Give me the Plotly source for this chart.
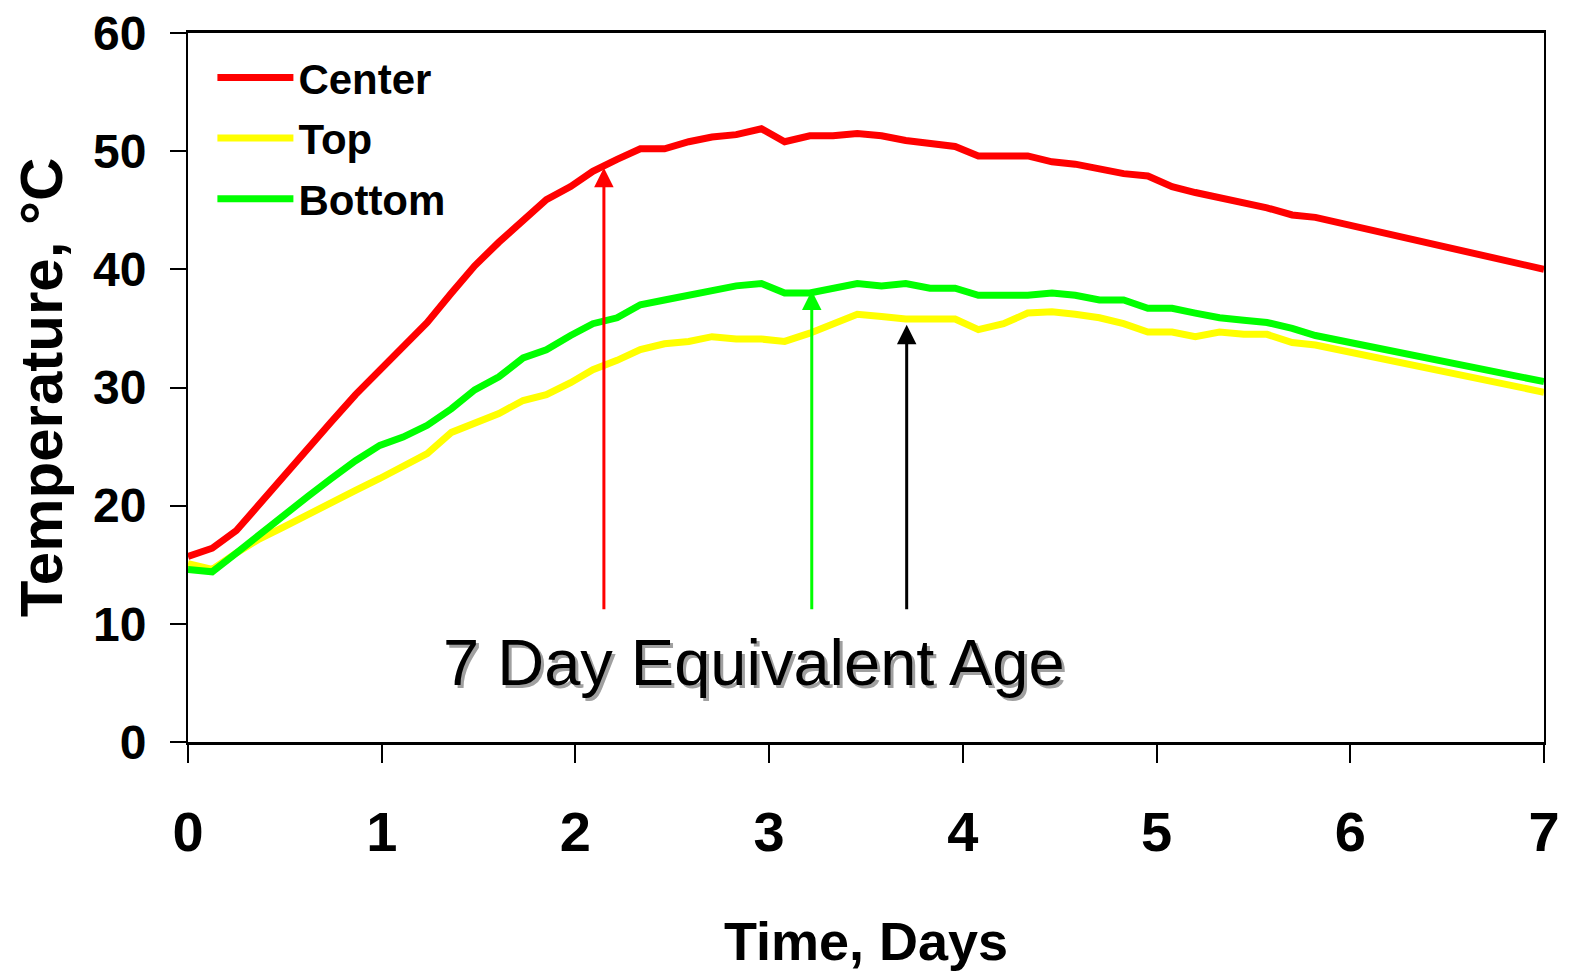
import plotly.graph_objects as go

# ---- data ----
time_days = [0.00, 0.125, 0.25, 0.37, 0.495, 0.62, 0.74, 0.865, 0.99, 1.11,
             1.235, 1.36, 1.48, 1.605, 1.73, 1.85, 1.975, 2.09, 2.215, 2.335,
             2.46, 2.585, 2.705, 2.83, 2.96, 3.08, 3.21, 3.33, 3.455, 3.58,
             3.705, 3.83, 3.96, 4.08, 4.21, 4.335, 4.46, 4.58, 4.705, 4.83,
             4.955, 5.08, 5.20, 5.325, 5.45, 5.57, 5.70, 5.82, 7.00]

center = [15.7, 16.4, 17.9, 20.2, 22.5, 24.8, 27.1, 29.4, 31.5, 33.4,
          35.5, 38.0, 40.3, 42.3, 44.2, 45.9, 47.0, 48.3, 49.3, 50.2,
          50.2, 50.8, 51.2, 51.4, 51.9, 50.8, 51.3, 51.3, 51.5, 51.3,
          50.9, 50.7, 50.4, 49.6, 49.6, 49.6, 49.1, 48.9, 48.5, 48.1,
          47.9, 47.0, 46.5, 46.1, 45.6, 45.2, 44.6, 44.4, 40.0]

top = [15.1, 14.6, 16.0, 17.2, 18.2, 19.3, 20.3, 21.3, 22.3, 23.3,
       24.4, 26.2, 27.0, 27.8, 28.9, 29.4, 30.4, 31.5, 32.3, 33.2,
       33.7, 33.9, 34.3, 34.1, 34.1, 33.9, 34.6, 35.4, 36.2, 36.0,
       35.8, 35.8, 35.8, 34.9, 35.4, 36.3, 36.4, 36.2, 35.9, 35.4,
       34.7, 34.7, 34.3, 34.7, 34.5, 34.5, 33.8, 33.6, 29.6]

bottom = [14.6, 14.4, 16.0, 17.6, 19.2, 20.8, 22.3, 23.8, 25.1, 25.8,
          26.8, 28.2, 29.8, 30.9, 32.5, 33.2, 34.4, 35.4, 35.9, 37.0,
          37.4, 37.8, 38.3, 38.6, 38.8, 38.0, 38.0, 38.4, 38.8, 38.6,
          38.8, 38.4, 38.4, 37.8, 37.8, 37.8, 38.0, 37.8, 37.4, 37.4,
          36.7, 36.7, 36.3, 35.9, 35.7, 35.5, 35.0, 34.4, 30.5]

series_names = ["Center", "Top", "Bottom"]
series_colors = ["#FF0000", "#FFFF00", "#00FF00"]

# equivalent-age arrows: day, tip temperature, tail temperature, colour
arrow_days = [2.147, 3.22, 3.71]
arrow_tips = [48.6, 38.2, 35.3]
arrow_tail = 11.1
arrow_colors = ["#FF0000", "#00FF00", "#000000"]

x_ticks = [0, 1, 2, 3, 4, 5, 6, 7]
y_ticks = [0, 10, 20, 30, 40, 50, 60]

note_text = "7 Day Equivalent Age"
note_pos = (2.92, 6.7)

# ---- figure ----
fig = go.Figure()
for name, ys, col in zip(series_names, [center, top, bottom], series_colors):
    fig.add_trace(go.Scatter(x=time_days, y=ys, mode="lines", name=name,
                             legendgroup=name,
                             line=dict(color=col, width=7), cliponaxis=False))

for d, tip, col in zip(arrow_days, arrow_tips, arrow_colors):
    fig.add_annotation(x=d, y=tip, ax=d, ay=arrow_tail, xref="x", yref="y",
                       axref="x", ayref="y", text="", showarrow=True,
                       arrowhead=2, arrowsize=1.3, arrowwidth=3,
                       arrowcolor=col, standoff=0, startstandoff=0)

# text with soft grey shadow
fig.add_annotation(x=note_pos[0], y=note_pos[1], xref="x", yref="y",
                   text=note_text, showarrow=False, xshift=3, yshift=-3,
                   font=dict(family="Liberation Sans, Arial", size=65, color="#A0A0A0"))
fig.add_annotation(x=note_pos[0], y=note_pos[1], xref="x", yref="y",
                   text=note_text, showarrow=False,
                   font=dict(family="Liberation Sans, Arial", size=65, color="#000000"))

# page body adds an 8px margin, so the figure is sized to fit the window
fig.update_layout(
    width=1568, height=968,
    margin=dict(l=180, r=32, t=25, b=234, autoexpand=False),
    paper_bgcolor="white", plot_bgcolor="white",
    showlegend=True,
    legend=dict(x=0.018, y=0.985, xanchor="left", yanchor="top",
                bgcolor="rgba(0,0,0,0)", itemwidth=76,
                font=dict(family="Liberation Sans, Arial",
                          size=42, color="black", weight="bold"),
                tracegroupgap=3),
)

fig.update_xaxes(
    range=[0, 7], tickvals=x_ticks, ticktext=[str(v) for v in x_ticks],
    showgrid=False, zeroline=False, showline=True, linecolor="black",
    linewidth=2.5, mirror=True, ticks="outside", ticklen=18, tickwidth=1.5,
    tickcolor="black", ticklabelstandoff=21, ticklabeloverflow="allow",
    tickfont=dict(family="Liberation Sans, Arial",
                  size=56, color="black", weight="bold"),
    title=dict(text="Time, Days", standoff=61,
               font=dict(family="Liberation Sans, Arial",
                         size=54, color="black", weight="bold")),
)
fig.update_yaxes(
    range=[0, 60], tickvals=y_ticks, ticktext=[str(v) for v in y_ticks],
    showgrid=False, zeroline=False, showline=True, linecolor="black",
    linewidth=2, mirror=True, ticks="outside", ticklen=16, tickwidth=1.5,
    tickcolor="black", ticklabelstandoff=14, ticklabeloverflow="allow",
    tickfont=dict(family="Liberation Sans, Arial", size=48, color="black",
                  weight="bold"),
    title=dict(text="Temperature, °C", standoff=22,
               font=dict(family="Liberation Sans, Arial", size=60,
                         color="black", weight="bold")),
)

fig.write_html("out.html")
